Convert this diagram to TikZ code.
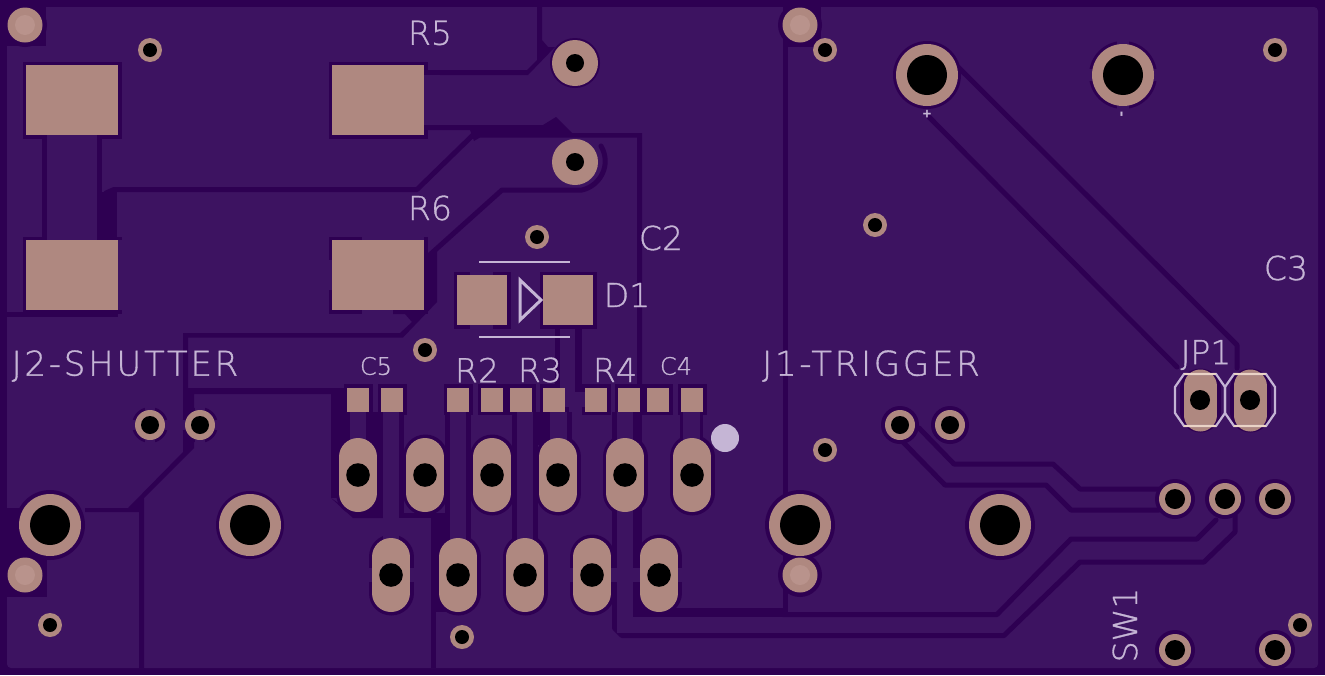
\documentclass[tikz,border=0pt]{standalone}
\usepackage{fontspec}
\setmainfont{DejaVu Sans Mono}
\newfontfamily\silkfont[FakeBold=1]{DejaVu Sans ExtraLight}
\newfontfamily\silkwide[LetterSpace=8,FakeBold=1]{DejaVu Sans ExtraLight}
\definecolor{board}{HTML}{2E0052}
\definecolor{plane}{HTML}{3D1361}
\definecolor{copper}{HTML}{AF8880}
\definecolor{copperhi}{HTML}{B9938C}
\definecolor{silk}{HTML}{C5B5D5}
\definecolor{silkcu}{HTML}{EAD3C6}
\tikzset{
  gapline/.style={draw=board,line width=5pt,line join=round,line cap=round},
  gapfill/.style={fill=board},
  padfill/.style={fill=copper},
  holefill/.style={fill=black},
  silkline/.style={draw=silk,line width=2.2pt,line join=miter},
  lbl/.style={text=silk,inner sep=0pt,font=\silkfont\fontsize{33}{33}\selectfont},
  wlbl/.style={text=silk,inner sep=0pt,font=\silkwide\fontsize{34}{34}\selectfont},
  slbl/.style={text=silk,inner sep=0pt,font=\silkfont\fontsize{24}{24}\selectfont},
  tlbl/.style={text=silk,inner sep=0pt,font=\bfseries\fontsize{14}{14}\selectfont},
}
\newcommand{\pcbvia}[4]{\fill[padfill] (#1,#2) circle[radius=#3]; \fill[holefill] (#1,#2) circle[radius=#4];}
\newcommand{\pcbhalo}[3]{\fill[gapfill] (#1,#2) circle[radius=#3];}
\newcommand{\pcbspokes}[4]{\fill[plane] (#1-#3,#2-#4) rectangle (#1+#3,#2+#4); \fill[plane] (#1-#4,#2-#3) rectangle (#1+#4,#2+#3);}
\newcommand{\pcboval}[2]{\draw[copper,line width=38pt,line cap=round] (#1,#2-18) -- (#1,#2+18); \fill[holefill] (#1,#2) circle[radius=11.8];}
\newcommand{\pcbovalhalo}[2]{\draw[board,line width=45pt,line cap=round] (#1,#2-18) -- (#1,#2+18);}
\newcommand{\pcbsmd}[4]{\fill[padfill] (#1,#2) rectangle (#3,#4);}
\newcommand{\pcbsmdhalo}[4]{\fill[gapfill] (#1-3.5,#2-3.5) rectangle (#3+3.5,#4+3.5);}
\newcommand{\pcbmount}[2]{\fill[gapfill] (#1,#2) circle[radius=22]; \fill[padfill] (#1,#2) circle[radius=17.5]; \fill[copperhi] (#1,#2) circle[radius=10];}
\begin{document}
\begin{tikzpicture}[x=1pt,y=-1pt]
\useasboundingbox (0,0) rectangle (1325,675);
\fill[board] (0,0) rectangle (1325,675);
\fill[plane,rounded corners=4pt] (7,7) rectangle (1318,668);
% corner clearances round the mounting holes
\fill[gapfill] (0,0) rectangle (46,46);
\fill[gapfill] (0,508) rectangle (47,597);
\fill[gapfill] (783,0) rectangle (821,47);
\fill[gapfill] (783,560) rectangle (788,598);
% --- left column gaps
\fill[gapfill] (42,137) rectangle (47,237);
\fill[gapfill] (97,137) rectangle (102,192);
\fill[gapfill] (97,192) rectangle (117,240);
\fill[gapfill] (7,312) rectangle (118,317);
\draw[gapline] (106,193) -- (114,189.5) -- (417,189.5) -- (473,135);
\draw[gapline] (424,260) -- (502,190) -- (582,190) .. controls (600,186) and (612,165) .. (601,146);
\fill[gapfill] (424,262) -- (437,250) -- (437,302) -- (403,337.5) -- (183,337.5) -- (183,333) -- (400,333) -- (412,322) -- (405,314) -- (393,314) -- (393,310) -- (424,310) -- cycle;
% --- top middle gaps
\fill[gapfill] (537,0) -- (542,0) -- (542,40) -- (548,47) -- (555,47) -- (528,75) -- (424,75) -- (424,70) -- (527,70) -- (537,60) -- cycle;
\fill[gapfill] (424,125) -- (543,125) -- (556,117) -- (572,133) -- (642,133) -- (642,390) -- (637,390) -- (637,137.5) -- (480,137.5) -- (474,141) -- (470,130) -- (424,130) -- cycle;
\fill[gapfill] (783,0) rectangle (788,612);
% --- lower left gaps
\fill[gapfill] (183,335) -- (188,335) -- (188,388) -- (331,388) -- (331,498) -- (353,513) -- (383,513) -- (383,518) -- (353,518) -- (331,498) -- (331,394) -- (194,394) -- (194,448) -- (144,498) -- (144,668) -- (139,668) -- (139,512) -- (85,512) -- (85,508) -- (128,508) -- (183,452) -- cycle;
\fill[gapfill] (331,388) rectangle (350,498);
\fill[gapfill] (366,412) rectangle (383,518);
\fill[gapfill] (399,412) rectangle (404,518);
\fill[gapfill] (399,513) rectangle (431,518);
\fill[gapfill] (431,513) rectangle (450,612);
\fill[gapfill] (431,612) rectangle (436,668);
\fill[gapfill] (445,412) rectangle (450,540);
\fill[gapfill] (466,412) rectangle (471,540);
\fill[gapfill] (512,412) rectangle (517,540);
\fill[gapfill] (533,412) rectangle (538,540);
\fill[gapfill] (533,412) rectangle (550,445);
\fill[gapfill] (567,412) rectangle (572,445);
\fill[gapfill] (612,412) rectangle (617,628);
\fill[gapfill] (633,412) rectangle (642,617);
\fill[gapfill] (633,608) rectangle (783,617);
\fill[gapfill] (680,412) rectangle (683,445);
\fill[gapfill] (700,412) rectangle (703,445);
% --- long traces
\draw[gapline] (783,614.5) -- (997,614.5) -- (1071,539) -- (1197,539) -- (1216,520);
\draw[gapline] (614.5,600) -- (614.5,628) -- (622,635.5) -- (1004,635.5) -- (1080,562) -- (1204,562) -- (1235,532) -- (1235,515);
\draw[gapline] (901,440) -- (945,485) -- (1046,485) -- (1071,510) -- (1159,510);
\draw[gapline] (919,428) -- (954,464) -- (1053,464) -- (1080,489) -- (1159,489);
\draw[gapline] (958,67) -- (1237,345) -- (1237,368);
\draw[gapline] (929,117) -- (1177,367);
% --- halos
\pcbsmdhalo{26}{65}{118}{135}
\pcbsmdhalo{332}{65}{424}{135}
\pcbsmdhalo{26}{240}{118}{310}
\pcbsmdhalo{332}{240}{424}{310}
\fill[plane] (47,120) rectangle (97,250);
\fill[plane] (118,240) rectangle (128,310);
\fill[plane] (424,75) rectangle (440,125);
\fill[plane] (362,232) rectangle (424,240);
\fill[plane] (325,260) rectangle (332,290);
\fill[plane] (362,310) rectangle (393,318);
\pcbsmdhalo{457}{275}{507}{325}
\pcbsmdhalo{543}{275}{593}{325}
\fill[plane] (470,268) rectangle (493,275);
\fill[plane] (470,325) rectangle (493,332);
\foreach \xa/\xb in {347/369,381/403,447/469,481/503,510/532,543/565,585/607,618/640,647/669,681/703}{\fill[gapfill] (\xa-3.5,384) rectangle (\xb+3.5,415);}
\fill[gapfill] (555,325) rectangle (560,392);
\fill[gapfill] (575,325) rectangle (582,392);
\fill[plane] (560,329) rectangle (575,407);
\fill[plane] (565,392) rectangle (585,407);
\foreach \x in {358,425,492,558,625,692}{\pcbovalhalo{\x}{475}}
\foreach \x in {391,458,525,592,659}{\pcbovalhalo{\x}{575}}
\foreach \x in {391,592,659}{\fill[plane] (\x-30,568) rectangle (\x+30,582);}
% light traces from the small pads to the through-holes
\fill[plane] (350,412) rectangle (366,440);
\fill[plane] (383,412) rectangle (399,540);
\fill[plane] (450,412) rectangle (466,540);
\fill[plane] (517,412) rectangle (533,540);
\fill[plane] (550,412) rectangle (567,440);
\fill[plane] (617,412) rectangle (633,440);
\fill[plane] (617,510) rectangle (633,633);
\fill[plane] (683,412) rectangle (700,440);
\pcbhalo{50}{525}{35}\pcbhalo{250}{525}{34}\pcbhalo{800}{525}{35}\pcbhalo{1000}{525}{35}
\pcbhalo{927}{75}{34}\pcbhalo{1123}{75}{34}\pcbspokes{1123}{75}{40}{6}
\pcbhalo{575}{63}{25}\pcbhalo{150}{425}{18}\pcbhalo{200}{425}{18}\pcbspokes{150}{425}{21}{5}\pcbspokes{200}{425}{21}{5}
\pcbhalo{900}{425}{19}\pcbhalo{950}{425}{19}
\foreach \x in {1175,1225,1275}{\pcbhalo{\x}{499}{20}}
\pcbhalo{1175}{650}{20}\pcbhalo{1275}{650}{20}
\draw[board,line width=41pt,line cap=round] (1200,389) -- (1200,412);
\draw[board,line width=41pt,line cap=round] (1250,389) -- (1250,412);
% --- mounting holes
\pcbmount{25}{25}\pcbmount{25}{575}\pcbmount{800}{25}\pcbmount{800}{575}
% --- copper
\pcbsmd{26}{65}{118}{135}\pcbsmd{332}{65}{424}{135}\pcbsmd{26}{240}{118}{310}\pcbsmd{332}{240}{424}{310}
\pcbsmd{457}{275}{507}{325}\pcbsmd{543}{275}{593}{325}
\foreach \xa/\xb in {347/369,381/403,447/469,481/503,510/532,543/565,585/607,618/640,647/669,681/703}{\pcbsmd{\xa}{388}{\xb}{412}}
\foreach \x in {358,425,492,558,625,692}{\pcboval{\x}{475}}
\foreach \x in {391,458,525,592,659}{\pcboval{\x}{575}}
\pcbvia{50}{525}{31}{20}\pcbvia{250}{525}{31}{20}\pcbvia{800}{525}{31}{20}\pcbvia{1000}{525}{31}{20}
\pcbvia{927}{75}{31}{20}\pcbvia{1123}{75}{31}{20}
\pcbvia{575}{63}{23}{9}\pcbvia{575}{162}{23}{9}
\pcbvia{150}{425}{15}{9}\pcbvia{200}{425}{15}{9}\pcbvia{900}{425}{15}{9}\pcbvia{950}{425}{15}{9}
\foreach \x in {1175,1225,1275}{\pcbvia{\x}{499}{16}{10}}
\pcbvia{1175}{650}{16}{10}\pcbvia{1275}{650}{16}{10}
\foreach \x/\y in {150/50,825/50,1275/50,875/225,537/237,425/350,50/625,462/637,825/450,1300/625}{\pcbvia{\x}{\y}{12}{7}}
\draw[copper,line width=33pt,line cap=round] (1200,386) -- (1200,415);
\draw[copper,line width=33pt,line cap=round] (1250,386) -- (1250,415);
\fill[holefill] (1200,400) circle[radius=10];
\fill[holefill] (1250,400) circle[radius=10];
% --- silkscreen
\draw[silkline] (479,262) -- (570,262);
\draw[silkline] (479,337) -- (570,337);
\draw[draw=silk,line width=3pt] (520,280) -- (520,320) -- (541,300) -- cycle;
\draw[silkline] (1184,374) -- (1216,374) -- (1225,387) -- (1225,413) -- (1216,426) -- (1184,426) -- (1175,413) -- (1175,387) -- cycle;
\draw[silkline] (1234,374) -- (1266,374) -- (1275,387) -- (1275,413) -- (1266,426) -- (1234,426) -- (1225,413) -- (1225,387) -- cycle;
\foreach \xa/\xb in {1184/1216,1234/1266}{\draw[silkcu,line width=2.2pt] (\xa,374) -- (\xb,374); \draw[silkcu,line width=2.2pt] (\xa,426) -- (\xb,426);}
\fill[silk] (725,438) circle[radius=14];
\node[lbl] (r5) at (430,33) {R5};
\node[lbl] (r6) at (430,208) {R6};
\node[lbl] (c2) at (661,238) {C2};
\node[lbl] (d1) at (627,295) {D1};
\node[lbl] (c3) at (1286,268) {C3};
\node[wlbl] (j2) at (125,366) {J2-SHUTTER};
\node[wlbl] (j1) at (871,366) {J1-TRIGGER};
\node[lbl] (jp1) at (1206,355) {JP1};
\node[lbl] (r2) at (477,370) {R2};
\node[lbl] (r3) at (540,370) {R3};
\node[lbl] (r4) at (615,370) {R4};
\node[slbl] (c5) at (376,366) {C5};
\node[slbl] (c4) at (676,366) {C4};
\node[lbl,rotate=90] (sw1) at (1125,625) {SW1};
\node[tlbl] (plus) at (927,114) {+};
\node[tlbl,rotate=90] (minus) at (1123,114) {-};
\end{tikzpicture}
\end{document}
